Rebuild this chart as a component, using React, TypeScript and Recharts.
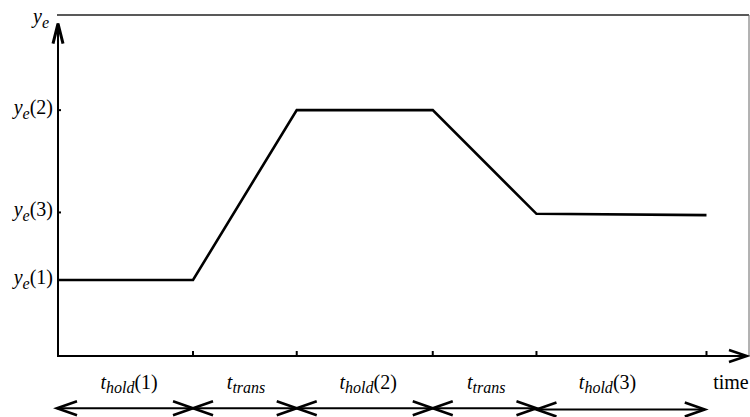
import React from "react";
import { LineChart, Line, XAxis, YAxis, ReferenceLine } from "recharts";

// ---- data ----
const times = [0, 4, 7.05, 11.05, 14.1, 19.1];
const levels = [2.23, 2.23, 7.21, 7.21, 4.17, 4.13];

const yLevelTicks = [2.23, 4.21, 7.21];
const yLevelNames = ["1", "3", "2"];
const yTopTick = 9.85;

const boundaryTicks = [4, 7.05, 11.05, 14.1, 19.1];
const segLabelPos = [2.12, 5.56, 9.15, 12.62, 16.19];
const segLabelMain = ["t", "t", "t", "t", "t"];
const segLabelSub = ["hold", "trans", "hold", "trans", "hold"];
const segLabelSuffix = ["(1)", "", "(2)", "", "(3)"];
const timeLabelPos = 19.82;

const segStarts = [0, 4, 7.05, 11.05, 14.1];
const segEnds = [4, 7.05, 11.05, 14.1, 19.05];
const segArrowY = [-1.53, -1.53, -1.53, -1.53, -1.57];

const X_MAX = 20.35;
const Y_MAX = 10;

const data = times.map((t, i) => ({ t, y: levels[i] }));

const FONT = "'Liberation Serif', 'Times New Roman', serif";
const FS = 20;
const SUB = 16;

const YTick = (props: any) => {
  const { x, y, payload } = props;
  const v = payload.value;
  if (v === yTopTick) {
    return (
      <text x={x - 4} y={y + 3} textAnchor="end" fontFamily={FONT} fontSize={FS} fill="#000">
        <tspan fontStyle="italic">y</tspan>
        <tspan fontStyle="italic" fontSize={SUB} dy={5}>e</tspan>
      </text>
    );
  }
  const idx = yLevelTicks.indexOf(v);
  const showMark = idx !== 0;
  return (
    <g>
      {showMark && <line x1={x + 4} x2={x + 8} y1={y} y2={y} stroke="#000" strokeWidth={2} />}
      <text x={x} y={y + 4} textAnchor="end" fontFamily={FONT} fontSize={FS} fill="#000">
        <tspan fontStyle="italic">y</tspan>
        <tspan fontStyle="italic" fontSize={SUB} dy={5}>e</tspan>
        <tspan dy={-5}>({yLevelNames[idx]})</tspan>
      </text>
    </g>
  );
};

const XTick = (props: any) => {
  const { x, y, payload } = props;
  const v = payload.value;
  if (boundaryTicks.indexOf(v) >= 0) {
    return <line x1={x} x2={x} y1={y} y2={y - 5} stroke="#000" strokeWidth={2} />;
  }
  if (v === timeLabelPos) {
    return (
      <text x={x} y={y + 33} textAnchor="middle" fontFamily={FONT} fontSize={FS} fill="#000">
        time
      </text>
    );
  }
  const i = segLabelPos.indexOf(v);
  if (i < 0) return null;
  return (
    <text x={x} y={y + 33} textAnchor="middle" fontFamily={FONT} fontSize={FS} fill="#000">
      <tspan fontStyle="italic">{segLabelMain[i]}</tspan>
      <tspan fontStyle="italic" fontSize={SUB} dy={4}>{segLabelSub[i]}</tspan>
      {segLabelSuffix[i] ? <tspan dy={-4}>{segLabelSuffix[i]}</tspan> : null}
    </text>
  );
};

const chevron = (tx: number, ty: number, dx: number, dy: number, len: number, half: number) => {
  const bx = tx - dx * len;
  const by = ty - dy * len;
  const px = -dy;
  const py = dx;
  return `${bx + px * half},${by + py * half} ${tx},${ty} ${bx - px * half},${by - py * half}`;
};

const DoubleArrow = (props: any) => {
  const { x1, y1, x2, y2 } = props;
  return (
    <g>
      <line x1={x1} y1={y1} x2={x2} y2={y2} stroke="#000" strokeWidth={2} />
      <polyline points={chevron(x1, y1, -1, 0, 20, 7)} fill="none" stroke="#000" strokeWidth={2.6} />
      <polyline points={chevron(x2, y2, 1, 0, 20, 7)} fill="none" stroke="#000" strokeWidth={2.6} />
    </g>
  );
};

const XAxisArrow = (props: any) => {
  const { x1, y1, x2, y2 } = props;
  return (
    <g>
      <line x1={x1} y1={y1} x2={x2 - 2} y2={y2} stroke="#000" strokeWidth={2.2} />
      <polyline points={chevron(x2 - 2, y2, 1, 0, 18, 6)} fill="none" stroke="#000" strokeWidth={2.6} />
    </g>
  );
};

const YAxisArrow = (props: any) => {
  const { x1, y1, x2, y2 } = props;
  return (
    <g>
      <line x1={x1 + 1} y1={y1} x2={x2 + 1} y2={y2} stroke="#000" strokeWidth={2} />
      <polyline points={chevron(x2 + 1, y2, 0, -1, 20, 5)} fill="none" stroke="#000" strokeWidth={3} />
    </g>
  );
};

export default function App() {
  return (
    <div style={{ position: "absolute", left: 0, top: 0, width: 750, height: 417, background: "#fff" }}>
      <LineChart
        width={750}
        height={417}
        data={data}
        margin={{ top: 15, right: 1, left: 0, bottom: 0 }}
      >
        <XAxis
          dataKey="t"
          type="number"
          domain={[0, X_MAX]}
          ticks={[...segLabelPos, ...boundaryTicks, timeLabelPos].sort((a, b) => a - b)}
          interval={0}
          tick={<XTick />}
          tickLine={false}
          tickSize={0}
          tickMargin={0}
          axisLine={false}
          height={61}
          allowDataOverflow
        />
        <YAxis
          type="number"
          domain={[0, Y_MAX]}
          ticks={[...yLevelTicks, yTopTick]}
          interval={0}
          tick={<YTick />}
          tickLine={false}
          tickSize={0}
          tickMargin={4}
          axisLine={false}
          width={57}
          allowDataOverflow
        />
        <ReferenceLine y={Y_MAX} stroke="#222" strokeWidth={1.5} ifOverflow="visible" />
        <ReferenceLine x={X_MAX} stroke="#666" strokeWidth={1} ifOverflow="visible" />
        <ReferenceLine
          segment={[{ x: 0, y: 0 }, { x: X_MAX, y: 0 }]}
          ifOverflow="visible"
          shape={<XAxisArrow />}
        />
        <ReferenceLine
          segment={[{ x: 0, y: 0 }, { x: 0, y: 9.75 }]}
          ifOverflow="visible"
          shape={<YAxisArrow />}
        />
        {segStarts.map((s, i) => (
          <ReferenceLine
            key={i}
            segment={[{ x: s, y: segArrowY[i] }, { x: segEnds[i], y: segArrowY[i] }]}
            ifOverflow="visible"
            shape={<DoubleArrow />}
          />
        ))}
        <Line
          dataKey="y"
          type="linear"
          stroke="#000"
          strokeWidth={2.6}
          dot={false}
          isAnimationActive={false}
        />
      </LineChart>
    </div>
  );
}
